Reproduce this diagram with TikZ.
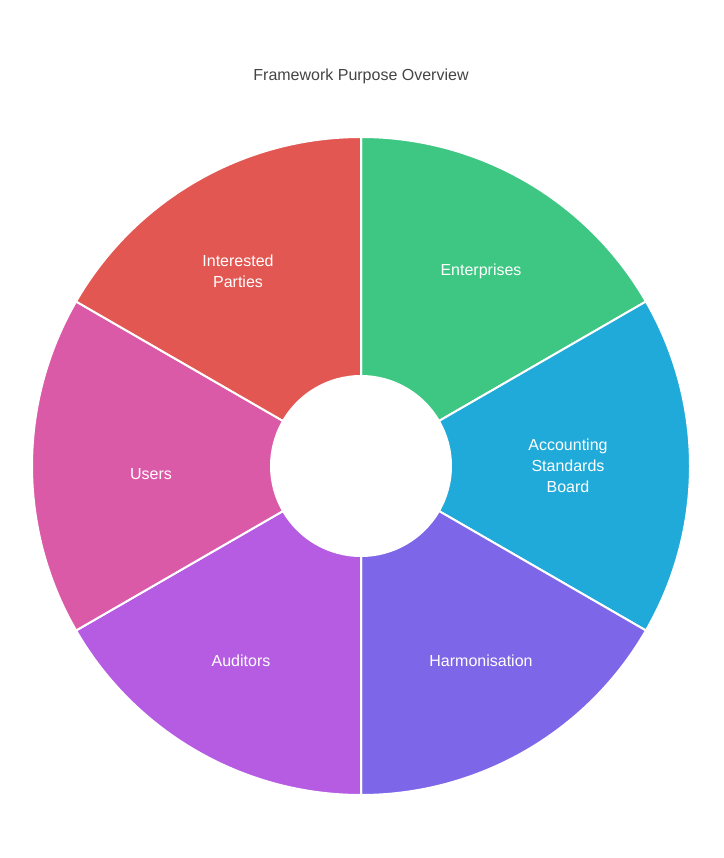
\documentclass[tikz,border=0pt]{standalone}
\usepackage{fontspec}
\setmainfont{Liberation Sans}
\definecolor{colg}{HTML}{3EC783}
\definecolor{colb}{HTML}{1FAAD9}
\definecolor{colv}{HTML}{7E66E8}
\definecolor{colp}{HTML}{B65CE3}
\definecolor{colm}{HTML}{DB5AA8}
\definecolor{colr}{HTML}{E35752}
\definecolor{coltg}{HTML}{444444}
\begin{document}
\begin{tikzpicture}[x=1pt,y=-1pt,
  lab/.style={text=white,font=\fontsize{16}{21}\selectfont,align=center}]
\useasboundingbox (0,0) rectangle (723,858);
\coordinate (c) at (361,466);
\foreach \a/\col in {90/colg,30/colb,-30/colv,-90/colp,-150/colm,-210/colr}{
  \filldraw[fill=\col,draw=white,line width=2pt] ([shift={(-\a:90)}]c) -- ([shift={(-\a:329)}]c) arc[start angle=-\a,end angle=-\a+60,radius=329] -- ([shift={(-\a+60:90)}]c) arc[start angle=-\a+60,end angle=-\a,radius=90] -- cycle;
}
\node[text=coltg,font=\fontsize{16}{20}\selectfont] (title) at (361,76) {Framework Purpose Overview};
\node[lab] (ent) at (481,271) {Enterprises};
\node[lab] (asb) at (568,466) {Accounting\\Standards\\Board};
\node[lab] (har) at (481,661) {Harmonisation};
\node[lab] (aud) at (241,661) {Auditors};
\node[lab] (usr) at (151,474) {Users};
\node[lab] (int) at (238,271) {Interested\\Parties};
\end{tikzpicture}
\end{document}
